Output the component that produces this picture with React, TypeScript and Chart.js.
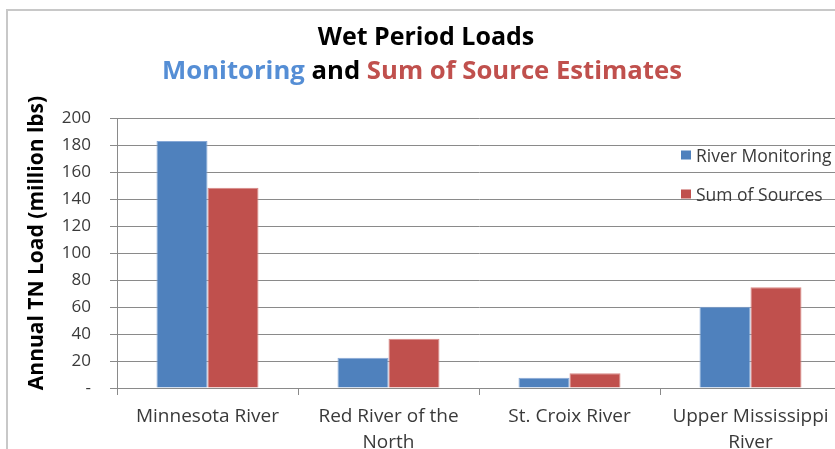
import React, { useEffect, useRef } from "react";
import { Chart, registerables } from "chart.js";

Chart.register(...registerables);

// ---------- data ----------
const CATEGORIES: string[][] = [
  ["Minnesota River"],
  ["Red River of the", "North"],
  ["St. Croix River"],
  ["Upper Mississippi", "River"],
];
const SERIES_LABELS = ["River Monitoring", "Sum of Sources"];
const MONITORING = [183, 22.4, 7.6, 60.2];
const SOURCES = [148.4, 36.4, 10.9, 74.6];
const Y_TICK_LABELS = ["-", "20", "40", "60", "80", "100", "120", "140", "160", "180", "200"];
const TITLE_LINE_1 = "Wet Period Loads";
const TITLE_LINE_2: [string, string][] = [
  ["Monitoring", "#558ED5"],
  [" and ", "#000000"],
  ["Sum of Source Estimates", "#C0504D"],
];
const Y_AXIS_TITLE = "Annual TN Load (million lbs)";

// ---------- styles ----------
const FONT = "'Open Sans', Lato, sans-serif";
const GRID = "#8a8a8a";
const TEXT = "#3a3a3a";
const BLUE = "#4F81BD";
const RED = "#C0504D";

const decorPlugin = {
  id: "decor",
  beforeDraw(chart: any) {
    const ctx = chart.ctx as CanvasRenderingContext2D;
    ctx.save();
    ctx.fillStyle = "#ffffff";
    ctx.fillRect(0, 0, chart.width, chart.height);
    ctx.strokeStyle = "#c8c8c8";
    ctx.lineWidth = 2;
    ctx.strokeRect(7, 10, chart.width + 40, chart.height + 40);
    ctx.restore();
  },
  afterDraw(chart: any) {
    const ctx = chart.ctx as CanvasRenderingContext2D;
    // title line 1
    ctx.save();
    ctx.textBaseline = "alphabetic";
    ctx.font = `bold 25px ${FONT}`;
    ctx.fillStyle = "#000000";
    ctx.textAlign = "center";
    ctx.fillText(TITLE_LINE_1, 426, 45);
    // title line 2 (multi-coloured)
    ctx.font = `bold 25.7px ${FONT}`;
    const widths = TITLE_LINE_2.map(([t]) => ctx.measureText(t).width);
    const total = widths.reduce((a, b) => a + b, 0);
    let x = 422 - total / 2;
    ctx.textAlign = "left";
    TITLE_LINE_2.forEach(([t, c], i) => {
      ctx.fillStyle = c;
      ctx.fillText(t, x, 79);
      x += widths[i];
    });
    ctx.restore();

    // y axis title
    ctx.save();
    ctx.translate(43, 243);
    ctx.rotate(-Math.PI / 2);
    ctx.font = `bold 21px ${FONT}`;
    ctx.fillStyle = "#000000";
    ctx.textAlign = "center";
    ctx.textBaseline = "alphabetic";
    ctx.fillText(Y_AXIS_TITLE, 0, 0);
    ctx.restore();

    // legend
    ctx.save();
    ctx.font = `17.5px ${FONT}`;
    ctx.textAlign = "left";
    ctx.textBaseline = "alphabetic";
    chart.data.datasets.forEach((ds: any, i: number) => {
      const cy = 155 + i * 39;
      ctx.fillStyle = ds.backgroundColor;
      ctx.fillRect(681, cy - 4.5, 10, 9);
      ctx.fillStyle = TEXT;
      ctx.fillText(ds.label, 696, cy + 6.5);
    });
    ctx.restore();
  },
};

export default function App() {
  const ref = useRef<HTMLCanvasElement | null>(null);

  useEffect(() => {
    if (!ref.current) return;
    const chart = new Chart(ref.current, {
      type: "bar",
      data: {
        labels: CATEGORIES,
        datasets: [
          {
            label: SERIES_LABELS[0],
            data: MONITORING,
            backgroundColor: BLUE,
            borderColor: "#86A8D6",
            borderWidth: 1,
          },
          {
            label: SERIES_LABELS[1],
            data: SOURCES,
            backgroundColor: RED,
            borderColor: "#D88886",
            borderWidth: 1,
          },
        ],
      },
      options: {
        responsive: false,
        maintainAspectRatio: false,
        animation: false,
        events: [],
        layout: { padding: { left: 0, top: 118, right: 19, bottom: 0 } },
        datasets: { bar: { categoryPercentage: 0.5635, barPercentage: 1 } },
        plugins: {
          legend: { display: false },
          title: { display: false },
          tooltip: { enabled: false },
        },
        scales: {
          x: {
            grid: {
              display: true,
              drawOnChartArea: false,
              drawTicks: true,
              tickLength: 7,
              color: GRID,
              offset: true,
            },
            border: { display: true, color: GRID, width: 1 },
            ticks: {
              font: { family: FONT, size: 19, lineHeight: 1.4 },
              color: TEXT,
              padding: 8,
              maxRotation: 0,
              autoSkip: false,
            },
            afterFit: (s: any) => {
              s.height = 82;
            },
          },
          y: {
            min: 0,
            max: 200,
            grid: { color: GRID, tickLength: 7 },
            border: { display: true, color: GRID, width: 1 },
            ticks: {
              stepSize: 20,
              callback: (_v: any, i: number) => Y_TICK_LABELS[i],
              font: { family: FONT, size: 17 },
              color: TEXT,
              padding: 19,
            },
            afterFit: (s: any) => {
              s.width = 117;
            },
          },
        },
      } as any,
      plugins: [decorPlugin],
    });
    return () => chart.destroy();
  }, []);

  return (
    <div
      style={{
        position: "fixed",
        left: 0,
        top: 0,
        width: 835,
        height: 449,
        overflow: "hidden",
        background: "#fff",
      }}
    >
      <canvas ref={ref} width={860} height={470} style={{ width: 860, height: 470, display: "block" }} />
    </div>
  );
}
